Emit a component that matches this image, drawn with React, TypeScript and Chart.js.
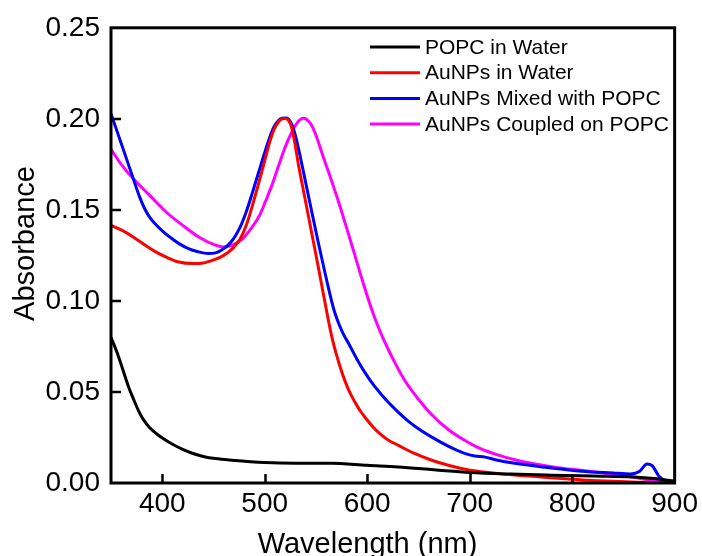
import React, { useEffect, useRef } from "react";
import { Chart, registerables } from "chart.js";

Chart.register(...registerables);

const FONT = "'Liberation Sans', Arial, Helvetica, sans-serif";

// Axis ticks
const xTicks = [400, 500, 600, 700, 800, 900];
const yTicks = [0, 0.05, 0.1, 0.15, 0.2, 0.25];
const xMin = 350;
const xMax = 900;
const yMin = 0;
const yMax = 0.25;

const xTitle = "Wavelength (nm)";
const yTitle = "Absorbance";

const seriesNames = [
  "POPC in Water",
  "AuNPs in Water",
  "AuNPs Mixed with POPC",
  "AuNPs Coupled on POPC",
];
const seriesColors = ["#000000", "#ff0000", "#0000ff", "#ff00ff"];

// POPC in Water
const popcWl = [350, 356, 362, 367, 372, 377, 382, 388, 395, 402, 410, 420, 430, 440, 452, 468, 500, 530, 565, 600, 630, 665, 700, 740, 780, 820, 860, 880, 900];
const popcAbs = [0.08, 0.0715, 0.0615, 0.053, 0.046, 0.0395, 0.0345, 0.0302, 0.0268, 0.024, 0.0213, 0.0185, 0.0162, 0.0146, 0.0134, 0.0125, 0.0112, 0.0108, 0.0109, 0.0097, 0.0088, 0.0073, 0.0058, 0.0049, 0.0043, 0.0038, 0.0033, 0.0025, 0.001];

// AuNPs in Water
const auWl = [350, 360, 372, 385, 395, 404, 415, 430, 440, 450, 460, 469, 476, 482, 488, 494, 500, 505, 509, 513, 517, 520, 523, 526, 529, 533, 538, 543, 548, 553, 558, 562, 566, 570, 574, 578, 582, 586, 590, 594, 598, 605, 612, 620, 631, 645, 663, 680, 699, 720, 744, 765, 786, 810, 840, 870, 900];
const auAbs = [0.1415, 0.139, 0.135, 0.13, 0.1265, 0.124, 0.1215, 0.1205, 0.1208, 0.1225, 0.125, 0.129, 0.134, 0.1415, 0.1525, 0.1645, 0.177, 0.1875, 0.194, 0.198, 0.2, 0.2002, 0.1993, 0.1958, 0.188, 0.1745, 0.16, 0.1455, 0.131, 0.1165, 0.1015, 0.0897, 0.079, 0.0705, 0.063, 0.0565, 0.051, 0.0465, 0.0425, 0.039, 0.036, 0.0312, 0.0272, 0.0238, 0.0205, 0.0165, 0.0125, 0.0096, 0.0072, 0.0057, 0.0044, 0.0035, 0.0026, 0.0017, 0.0009, 0.0004, 0.0];

// AuNPs Mixed with POPC
const mixWl = [350, 360, 370, 378, 383, 388, 394, 400, 408, 416, 425, 435, 445, 452, 458, 464, 470, 476, 482, 488, 494, 500, 505, 509, 513, 517, 521, 525, 528, 531, 534, 537, 542, 547, 552, 557, 561, 565, 569, 573, 577, 582, 590, 598, 606, 614, 622, 631, 640, 650, 663, 680, 695, 705, 715, 725, 744, 776, 809, 840, 857, 866, 873, 878, 885, 892, 900];
const mixAbs = [0.2028, 0.1865, 0.17, 0.157, 0.1505, 0.1458, 0.1418, 0.1385, 0.1348, 0.1316, 0.1289, 0.127, 0.126, 0.1264, 0.128, 0.1305, 0.1345, 0.1405, 0.149, 0.1595, 0.1705, 0.1815, 0.19, 0.1955, 0.1988, 0.2003, 0.2005, 0.1985, 0.1945, 0.1885, 0.181, 0.173, 0.1595, 0.146, 0.1328, 0.12, 0.11, 0.1005, 0.0925, 0.0865, 0.0815, 0.0765, 0.068, 0.0605, 0.054, 0.0485, 0.0435, 0.0385, 0.034, 0.0298, 0.0252, 0.02, 0.0163, 0.0148, 0.0142, 0.0128, 0.0108, 0.0085, 0.0065, 0.0055, 0.005, 0.0065, 0.0105, 0.0095, 0.0035, 0.001, 0.0];

// AuNPs Coupled on POPC
const cplWl = [350, 360, 372, 388, 404, 420, 436, 452, 460, 468, 478, 487, 495, 501, 508, 514, 520, 525, 530, 534, 538, 542, 546, 551, 556, 564, 572, 580, 588, 596, 604, 612, 620, 628, 637, 650, 663, 680, 695, 710, 728, 744, 760, 786, 808, 830, 857, 875, 890, 900];
const cplAbs = [0.1832, 0.175, 0.1669, 0.1578, 0.1487, 0.1415, 0.135, 0.1306, 0.1296, 0.1305, 0.134, 0.14, 0.147, 0.155, 0.165, 0.175, 0.1845, 0.191, 0.1965, 0.1993, 0.2003, 0.1992, 0.1962, 0.1895, 0.181, 0.168, 0.1545, 0.14, 0.125, 0.11, 0.096, 0.084, 0.074, 0.065, 0.056, 0.046, 0.0375, 0.029, 0.0235, 0.019, 0.0153, 0.0128, 0.0108, 0.0084, 0.007, 0.0055, 0.0034, 0.0018, 0.0007, 0.0];

const seriesWl = [popcWl, auWl, mixWl, cplWl];
const seriesAbs = [popcAbs, auAbs, mixAbs, cplAbs];

const framePlugin = {
  id: "framePlugin",
  afterDatasetsDraw(chart: any) {
    const { ctx, chartArea: a, scales } = chart;
    ctx.save();
    ctx.strokeStyle = "#000";
    ctx.lineWidth = 3;
    ctx.strokeRect(a.left, a.top, a.right - a.left, a.bottom - a.top);

    ctx.lineWidth = 2.5;
    ctx.beginPath();
    for (const v of xTicks) {
      if (v <= xMin || v >= xMax) continue;
      const px = Math.round(scales.x.getPixelForValue(v)) + 0.5;
      ctx.moveTo(px, a.bottom);
      ctx.lineTo(px, a.bottom - 9);
    }
    for (const v of yTicks) {
      if (v <= yMin || v >= yMax) continue;
      const py = Math.round(scales.y.getPixelForValue(v));
      ctx.moveTo(a.left, py);
      ctx.lineTo(a.left + 10, py);
    }
    ctx.stroke();

    // legend
    ctx.font = `21px ${FONT}`;
    ctx.textAlign = "left";
    ctx.textBaseline = "middle";
    ctx.lineWidth = 3;
    seriesNames.forEach((name, i) => {
      const y = 47 + i * 25.7;
      ctx.strokeStyle = seriesColors[i];
      ctx.beginPath();
      ctx.moveTo(370, y);
      ctx.lineTo(420, y);
      ctx.stroke();
      ctx.fillStyle = "#000";
      ctx.fillText(name, 425, y + 1);
    });

    // axis titles
    ctx.fillStyle = "#000";
    ctx.font = `29px ${FONT}`;
    ctx.textAlign = "center";
    ctx.textBaseline = "alphabetic";
    ctx.fillText(xTitle, 367.5, 553);
    ctx.translate(33.5, 243.5);
    ctx.rotate(-Math.PI / 2);
    ctx.fillText(yTitle, 0, 0);
    ctx.restore();
  },
};

export default function App() {
  const canvasRef = useRef<HTMLCanvasElement | null>(null);

  useEffect(() => {
    const canvas = canvasRef.current;
    if (!canvas) return;
    const datasets = seriesNames.map((name, i) => ({
      label: name,
      data: seriesWl[i].map((x, j) => ({ x, y: seriesAbs[i][j] })),
      borderColor: seriesColors[i],
      backgroundColor: seriesColors[i],
      borderWidth: 3,
      pointRadius: 0,
      fill: false,
      cubicInterpolationMode: "monotone" as const,
    }));
    const chart = new Chart(canvas, {
      type: "line",
      data: { datasets },
      options: {
        responsive: false,
        animation: false,
        devicePixelRatio: 1,
        layout: { padding: { top: 24, right: 25, left: 0, bottom: 0 } },
        plugins: { legend: { display: false }, tooltip: { enabled: false } },
        scales: {
          x: {
            type: "linear",
            min: xMin,
            max: xMax,
            grid: { display: false, drawTicks: false },
            border: { display: false },
            afterBuildTicks: (scale: any) => {
              scale.ticks = xTicks.map((v) => ({ value: v }));
            },
            afterFit: (scale: any) => {
              scale.height = 73;
            },
            ticks: {
              color: "#000",
              padding: 4,
              maxRotation: 0,
              font: { family: FONT, size: 28 },
              callback: (v: any) => String(v),
            },
          },
          y: {
            type: "linear",
            min: yMin,
            max: yMax,
            grid: { display: false, drawTicks: false },
            border: { display: false },
            afterBuildTicks: (scale: any) => {
              scale.ticks = yTicks.map((v) => ({ value: v }));
            },
            afterFit: (scale: any) => {
              scale.width = 111;
            },
            ticks: {
              color: "#000",
              padding: 11,
              font: { family: FONT, size: 28 },
              callback: (v: any) => Number(v).toFixed(2),
            },
          },
        },
      },
      plugins: [framePlugin],
    });
    return () => chart.destroy();
  }, []);

  return (
    <div style={{ position: "fixed", left: 0, top: 0, width: 702, height: 556, background: "#fff" }}>
      <canvas ref={canvasRef} width={702} height={556} style={{ display: "block" }} />
    </div>
  );
}
